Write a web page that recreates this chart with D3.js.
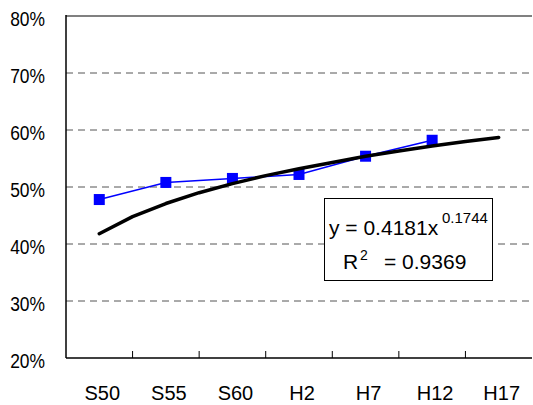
<!DOCTYPE html>
<html>
<head>
<meta charset="utf-8">
<script src="https://cdn.jsdelivr.net/npm/d3@7"></script>
<style>
  body { margin: 0; background: white; }
  text { font-family: "Liberation Sans", Arial, sans-serif; fill: #000; }
</style>
</head>
<body>
<div id="chart"></div>
<script>
// categories and values
var categories = ['S50', 'S55', 'S60', 'H2', 'H7', 'H12', 'H17'];
var actualCats = ['S50', 'S55', 'S60', 'H2', 'H7', 'H12'];
var actualValues = [0.478, 0.508, 0.515, 0.522, 0.554, 0.582];

// power trendline, read every half step (index 0 = S50 ... 6 = H17)
var trendIndex = [0, 0.5, 1, 1.5, 2, 2.5, 3, 3.5, 4, 4.5, 5, 5.5, 6];
var trendValues = [0.418, 0.448, 0.471, 0.490, 0.506, 0.520, 0.532, 0.543, 0.554, 0.563, 0.572, 0.580, 0.587];

var yTicks = [0.2, 0.3, 0.4, 0.5, 0.6, 0.7, 0.8];

var W = 533, H = 405;
var margin = { left: 66, right: 532, top: 16, bottom: 358 };

var svg = d3.select('#chart').append('svg')
    .attr('width', W)
    .attr('height', H)
    .style('background', 'white');

var xScale = d3.scaleBand()
    .domain(categories)
    .range([margin.left, margin.right]);

var yScale = d3.scaleLinear()
    .domain([0.2, 0.8])
    .range([margin.bottom, margin.top]);

// trend index -> pixel, through the band centres
var xCenter = function(c) { return xScale(c) + xScale.bandwidth() / 2; };
var tScale = d3.scaleLinear()
    .domain([0, categories.length - 1])
    .range([xCenter(categories[0]), xCenter(categories[categories.length - 1])]);

// gridlines
svg.append('g').selectAll('line')
    .data(yTicks.filter(function(d) { return d > 0.2 && d < 0.8; }))
    .enter().append('line')
    .attr('x1', margin.left)
    .attr('x2', margin.right)
    .attr('y1', function(d) { return yScale(d); })
    .attr('y2', function(d) { return yScale(d); })
    .attr('stroke', '#555')
    .attr('stroke-width', 1)
    .attr('stroke-dasharray', '7,5');

// top line at 80%
svg.append('line')
    .attr('x1', margin.left).attr('x2', margin.right)
    .attr('y1', yScale(0.8)).attr('y2', yScale(0.8))
    .attr('stroke', '#808080')
    .attr('stroke-width', 2);

// y labels
svg.append('g').selectAll('text')
    .data(yTicks)
    .enter().append('text')
    .attr('transform', function(d) { return 'translate(45,' + (yScale(d) + 10) + ') scale(0.87,1)'; })
    .attr('text-anchor', 'end')
    .style('font-size', '20px')
    .text(function(d) { return Math.round(d * 100) + '%'; });

// x ticks point up from the axis, on band edges
svg.append('g').selectAll('line')
    .data(categories.slice(1))
    .enter().append('line')
    .attr('x1', function(d) { return xScale(d); })
    .attr('x2', function(d) { return xScale(d); })
    .attr('y1', margin.bottom)
    .attr('y2', margin.bottom - 7)
    .attr('stroke', '#000')
    .attr('stroke-width', 1);

svg.append('g').selectAll('text')
    .data(categories)
    .enter().append('text')
    .attr('x', function(d) { return xCenter(d) + 3; })
    .attr('y', 400)
    .attr('text-anchor', 'middle')
    .style('font-size', '20px')
    .text(function(d) { return d; });

// axis lines
svg.append('line')
    .attr('x1', margin.left).attr('x2', margin.left)
    .attr('y1', margin.top - 1).attr('y2', margin.bottom)
    .attr('stroke', '#000').attr('stroke-width', 1.5);
svg.append('line')
    .attr('x1', margin.left).attr('x2', margin.right)
    .attr('y1', margin.bottom).attr('y2', margin.bottom)
    .attr('stroke', '#000').attr('stroke-width', 1.5);

// actual series
var line = d3.line()
    .x(function(d, i) { return xCenter(actualCats[i]); })
    .y(function(d) { return yScale(d); });

svg.append('path')
    .datum(actualValues)
    .attr('d', line)
    .attr('fill', 'none')
    .attr('stroke', '#0000ff')
    .attr('stroke-width', 1.5);

svg.append('g').selectAll('rect')
    .data(actualValues)
    .enter().append('rect')
    .attr('x', function(d, i) { return xCenter(actualCats[i]) - 5.5; })
    .attr('y', function(d) { return yScale(d) - 5.5; })
    .attr('width', 11)
    .attr('height', 11)
    .attr('fill', '#0000ff');

// trendline
var tLine = d3.line()
    .x(function(d, i) { return tScale(trendIndex[i]); })
    .y(function(d) { return yScale(d); });

svg.append('path')
    .datum(trendValues)
    .attr('d', tLine)
    .attr('fill', 'none')
    .attr('stroke', '#000')
    .attr('stroke-width', 3.5)
    .attr('stroke-linecap', 'round')
    .attr('stroke-linejoin', 'round');

// equation box
var box = svg.append('g');
box.append('rect')
    .attr('x', 324.5).attr('y', 198.5)
    .attr('width', 168).attr('height', 82)
    .attr('fill', 'white')
    .attr('stroke', '#000')
    .attr('stroke-width', 1);

box.append('text')
    .attr('x', 329).attr('y', 235)
    .style('font-size', '21px')
    .text('y = 0.4181x');
box.append('text')
    .attr('x', 442).attr('y', 222.5)
    .style('font-size', '15px')
    .text('0.1744');

box.append('text')
    .attr('x', 343).attr('y', 269)
    .style('font-size', '21px')
    .text('R');
box.append('text')
    .attr('x', 360).attr('y', 259.5)
    .style('font-size', '14px')
    .text('2');
box.append('text')
    .attr('x', 384).attr('y', 269)
    .style('font-size', '21px')
    .text('= 0.9369');
</script>
</body>
</html>
